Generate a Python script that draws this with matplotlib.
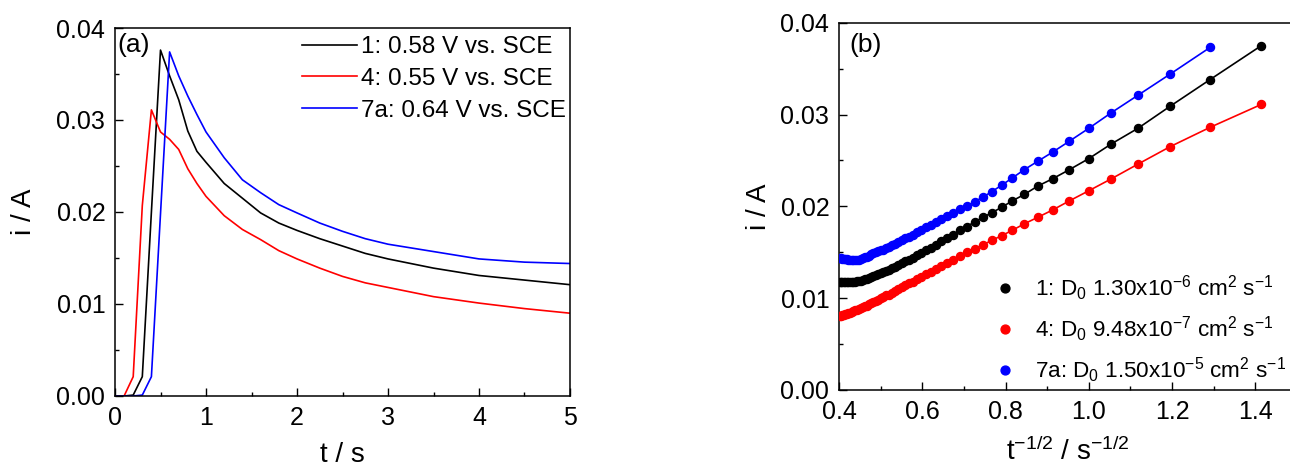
import matplotlib
matplotlib.use("Agg")
import matplotlib.pyplot as plt
import numpy as np
from matplotlib.ticker import MultipleLocator, FormatStrFormatter

plt.rcParams["font.family"] = ["Liberation Sans", "DejaVu Sans"]
plt.rcParams["mathtext.default"] = "regular"

# ---- panel (a): chronoamperometry, i vs t ----
T_A = [0.0, 0.1, 0.2, 0.3, 0.4, 0.5, 0.6, 0.7, 0.8, 0.9, 1.0, 1.2, 1.4, 1.6, 1.8,
       2.0, 2.25, 2.5, 2.75, 3.0, 3.5, 4.0, 4.5, 5.0]
I_A_1 = [0.0, 0.0, 0.0001, 0.0021, 0.0200, 0.0376, 0.0348, 0.0322, 0.0288, 0.0266,
         0.0254, 0.0231, 0.0215, 0.0199, 0.0188, 0.0180, 0.0171, 0.0163, 0.0155,
         0.0149, 0.0139, 0.0131, 0.0126, 0.0121]
I_A_4 = [0.0, 0.0, 0.0021, 0.0207, 0.0311, 0.0287, 0.0279, 0.0268, 0.0247, 0.0231,
         0.0217, 0.0196, 0.0181, 0.0170, 0.0158, 0.0149, 0.0139, 0.0130, 0.0123,
         0.0118, 0.0108, 0.0101, 0.0095, 0.0090]
I_A_7A = [0.0, 0.0, 0.0, 0.0001, 0.0021, 0.0198, 0.0374, 0.0348, 0.0326, 0.0306,
          0.0287, 0.0259, 0.0235, 0.0221, 0.0208, 0.0199, 0.0188, 0.0179, 0.0171,
          0.0165, 0.0157, 0.0149, 0.01455, 0.0144]
LABELS_A = ["1: 0.58 V vs. SCE", "4: 0.55 V vs. SCE", "7a: 0.64 V vs. SCE"]

# ---- panel (b): Cottrell plot, i vs t^-1/2 (samples every 0.1 s) ----
T_B = [0.5, 0.6, 0.7, 0.8, 0.9, 1.0, 1.1, 1.2, 1.3, 1.4, 1.5, 1.6, 1.7, 1.8, 1.9,
       2.0, 2.1, 2.2, 2.3, 2.4, 2.5, 2.6, 2.7, 2.8, 2.9, 3.0, 3.1, 3.2, 3.3, 3.4,
       3.5, 3.6, 3.7, 3.8, 3.9, 4.0, 4.1, 4.2, 4.3, 4.4, 4.5, 4.6, 4.7, 4.8, 4.9,
       5.0, 5.1, 5.2, 5.3, 5.4, 5.5, 5.6, 5.7, 5.8, 5.9, 6.0, 6.1, 6.2]
I_B_1 = [0.0375, 0.0338, 0.0309, 0.0285, 0.0268, 0.0252, 0.0240, 0.0230, 0.0222,
         0.0213, 0.0206, 0.0199, 0.0193, 0.0188, 0.0183, 0.0178, 0.0174, 0.0169,
         0.0166, 0.0162, 0.0158, 0.0155, 0.0152, 0.0149, 0.0147, 0.0144, 0.0142,
         0.0140, 0.0138, 0.0136, 0.0134, 0.0133, 0.0131, 0.0130, 0.0128, 0.0127,
         0.0126, 0.0125, 0.0124, 0.0123, 0.0122, 0.0121, 0.0121, 0.0120, 0.0119,
         0.0119, 0.0119, 0.0118, 0.0118, 0.0118, 0.0118, 0.0118, 0.0118, 0.0118,
         0.0118, 0.0118, 0.0118, 0.0118]
I_B_4 = [0.0311, 0.0286, 0.0265, 0.0246, 0.0230, 0.0217, 0.0206, 0.0196, 0.0188,
         0.0181, 0.0174, 0.0168, 0.0163, 0.0158, 0.0154, 0.0150, 0.0146, 0.0142,
         0.0138, 0.0135, 0.0132, 0.0129, 0.0126, 0.0123, 0.0121, 0.0118, 0.0116,
         0.0114, 0.0112, 0.0110, 0.0108, 0.0106, 0.0104, 0.0103, 0.0101, 0.0100,
         0.0098, 0.0097, 0.0096, 0.0095, 0.0094, 0.0092, 0.0091, 0.0090, 0.0089,
         0.0088, 0.0087, 0.0087, 0.0086, 0.0085, 0.0084, 0.0084, 0.0083, 0.0083,
         0.0082, 0.0082, 0.0081, 0.0081]
# 7a starts one sample later (t = 0.6 s)
I_B_7A = [0.0373, 0.0344, 0.0321, 0.0302, 0.0285, 0.0271, 0.0259, 0.0249, 0.0240,
          0.0231, 0.0223, 0.0216, 0.0210, 0.0205, 0.0200, 0.0197, 0.0193, 0.0190,
          0.0186, 0.0183, 0.0180, 0.0177, 0.0174, 0.0172, 0.0169, 0.0167, 0.0165,
          0.0163, 0.0161, 0.0159, 0.0158, 0.0156, 0.0155, 0.0153, 0.0152, 0.0151,
          0.0150, 0.0149, 0.0148, 0.0146, 0.0145, 0.0145, 0.0144, 0.0143, 0.0142,
          0.0142, 0.0142, 0.0142, 0.0142, 0.0142, 0.0142, 0.0143, 0.0143, 0.0143,
          0.0143, 0.0144, 0.0144]
LABELS_B = [
    "1: D$_0$ 1.30x10$^{-6}$ cm$^2$ s$^{-1}$",
    "4: D$_0$ 9.48x10$^{-7}$ cm$^2$ s$^{-1}$",
    "7a: D$_0$ 1.50x10$^{-5}$ cm$^2$ s$^{-1}$",
]

COLORS = ["#000000", "#ff0000", "#0000ff"]


def style_axes(ax):
    for s in ax.spines.values():
        s.set_linewidth(1.1)
    ax.tick_params(which="both", direction="in", top=False, right=False,
                   labelsize=18, width=1.0, pad=7)
    ax.tick_params(which="major", length=5.5)
    ax.tick_params(which="minor", length=3)


fig = plt.figure(figsize=(12.9, 4.68), dpi=100)

# panel (a)
ax1 = fig.add_axes([0.08915, 0.15385, 0.35271, 0.78632])
for ys, c, lab in zip([I_A_1, I_A_4, I_A_7A], COLORS, LABELS_A):
    ax1.plot(T_A, ys, color=c, lw=1.2, label=lab)
ax1.set_xlim(0, 5)
ax1.set_ylim(0, 0.04)
ax1.xaxis.set_major_locator(MultipleLocator(1))
ax1.xaxis.set_minor_locator(MultipleLocator(0.5))
ax1.yaxis.set_major_locator(MultipleLocator(0.01))
ax1.yaxis.set_minor_locator(MultipleLocator(0.005))
ax1.yaxis.set_major_formatter(FormatStrFormatter("%.2f"))
style_axes(ax1)
ax1.set_xlabel("t / s", fontsize=20, labelpad=9)
ax1.set_ylabel("i / A", fontsize=20, labelpad=14)
ax1.text(0.006, 0.955, "(a)", transform=ax1.transAxes, fontsize=19,
         ha="left", va="center")
ax1.legend(loc="upper left", bbox_to_anchor=(0.411, 0.978), frameon=False,
           fontsize=17.5, handlelength=2.25, handletextpad=0.16, labelspacing=0.4,
           borderpad=0, borderaxespad=0)

# panel (b)
ax2 = fig.add_axes([0.65039, 0.16667, 0.35504, 0.78483])
t_b = np.array(T_B)
for ys, c, lab in zip([I_B_1, I_B_4, I_B_7A], COLORS, LABELS_B):
    ts = t_b[len(t_b) - len(ys):]
    x = ts ** -0.5
    ax2.plot(x, ys, color=c, lw=1.2, zorder=2)
    ax2.plot(x, ys, "o", color=c, ms=5.8, zorder=3, label=lab)
ax2.set_xlim(0.4, 1.5)
ax2.set_ylim(0, 0.04)
ax2.xaxis.set_major_locator(MultipleLocator(0.2))
ax2.xaxis.set_minor_locator(MultipleLocator(0.1))
ax2.xaxis.set_major_formatter(FormatStrFormatter("%.1f"))
ax2.yaxis.set_major_locator(MultipleLocator(0.01))
ax2.yaxis.set_minor_locator(MultipleLocator(0.005))
ax2.yaxis.set_major_formatter(FormatStrFormatter("%.2f"))
style_axes(ax2)
ax2.set_xlabel("t$^{-1/2}$ / s$^{-1/2}$", fontsize=20, labelpad=10)
ax2.set_ylabel("i / A", fontsize=20, labelpad=6)
ax2.text(0.022, 0.939, "(b)", transform=ax2.transAxes, fontsize=19,
         ha="left", va="center")
ax2.legend(loc="upper left", bbox_to_anchor=(0.338, 0.318), frameon=False,
           fontsize=16.2, handlelength=1.0, handletextpad=0.85, labelspacing=0.52,
           borderpad=0, borderaxespad=0, numpoints=1, markerscale=1.1)

fig.savefig("out.png", dpi=100)
